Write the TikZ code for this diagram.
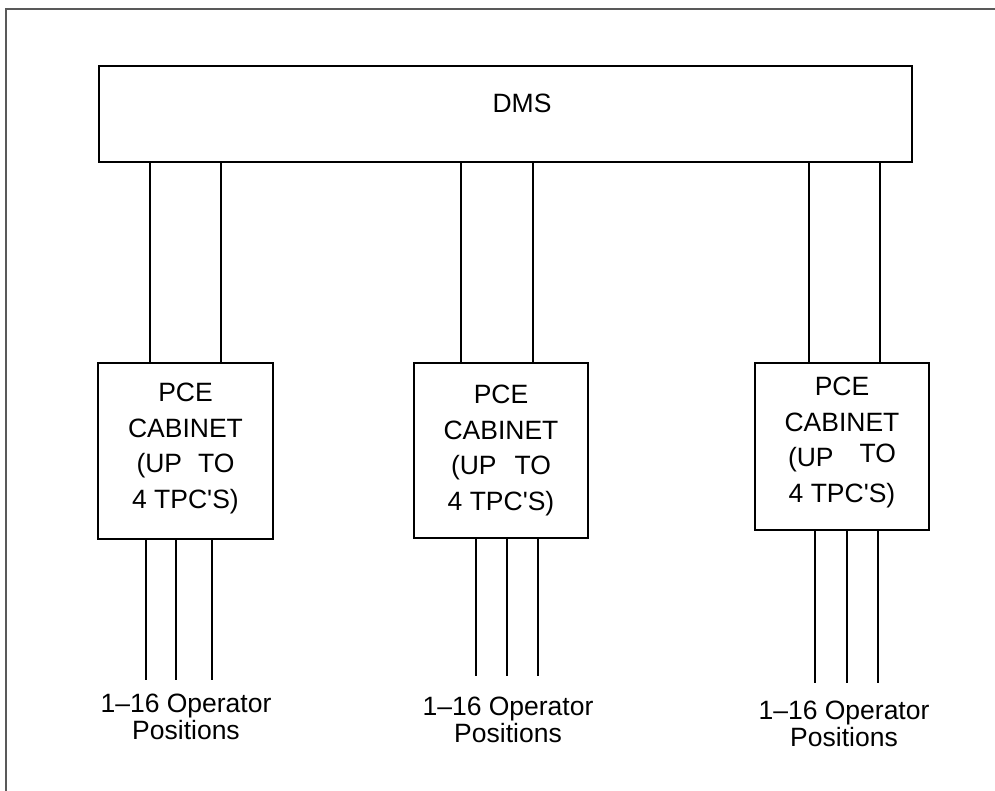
\documentclass[tikz,border=0pt]{standalone}
\usepackage{fontspec}
\setmainfont{Liberation Sans}[Ligatures=TeXOff]
\usetikzlibrary{positioning}

\begin{document}
\begin{tikzpicture}[x=1pt,y=-1pt,
  unit/.style={draw,line width=2pt,inner sep=0pt},
  wire/.style={line width=2pt},
  cabtext/.style={anchor=north,inner sep=0pt,align=center,font=\fontsize{26.5}{35.5}\selectfont},
  opstext/.style={anchor=north,inner sep=0pt,align=center,font=\fontsize{26.5}{26.5}\selectfont}]
\useasboundingbox (0,0) rectangle (995,791);
\draw[line width=2pt,black!65] (6,791) -- (6,9) -- (995,9);

% switch
\node[unit,minimum width=813pt,minimum height=96pt] (dms) at (505.5,114) {};
\node[anchor=base,inner sep=0pt,font=\fontsize{26.5}{30}\selectfont] (dmstxt) at (522,113) {DMS};

% cabinets
\node[unit,minimum width=175pt,minimum height=176pt] (cabA) at (185.5,451) {};
\node[cabtext] (txtA) at (185.5,383) {PCE\\CABINET\\(UP\hspace{16pt}TO\\4 TPC'S)};
\node[unit,minimum width=174pt,minimum height=175pt] (cabB) at (501,450.5) {};
\node[cabtext] (txtB) at (501,385) {PCE\\CABINET\\(UP\hspace{18pt}TO\\4 TPC'S)};
\node[unit,minimum width=174pt,minimum height=167pt] (cabC) at (842,446.5) {};
\node[cabtext] (txtC) at (842,377) {PCE\\CABINET\\(UP\hspace{26pt}\raisebox{4pt}{TO}\\4 TPC'S)};

% trunks to the DMS
\foreach \x in {150,221} \draw[wire] (\x,0 |- dms.south) -- (\x,0 |- cabA.north);
\foreach \x in {461,533} \draw[wire] (\x,0 |- dms.south) -- (\x,0 |- cabB.north);
\foreach \x in {809,880} \draw[wire] (\x,0 |- dms.south) -- (\x,0 |- cabC.north);

% operator positions
\coordinate (endA) at (0,680);
\coordinate (endB) at (0,676);
\coordinate (endC) at (0,683);
\foreach \x in {146,176,212} \draw[wire] (\x,0 |- cabA.south) -- (\x,0 |- endA);
\foreach \x in {476,507,538} \draw[wire] (\x,0 |- cabB.south) -- (\x,0 |- endB);
\foreach \x in {815,847,878} \draw[wire] (\x,0 |- cabC.south) -- (\x,0 |- endC);
\node[opstext] (opsA) at (186,694) {1–16 Operator\\Positions};
\node[opstext] (opsB) at (508,697) {1–16 Operator\\Positions};
\node[opstext] (opsC) at (844,701) {1–16 Operator\\Positions};
\end{tikzpicture}
\end{document}
